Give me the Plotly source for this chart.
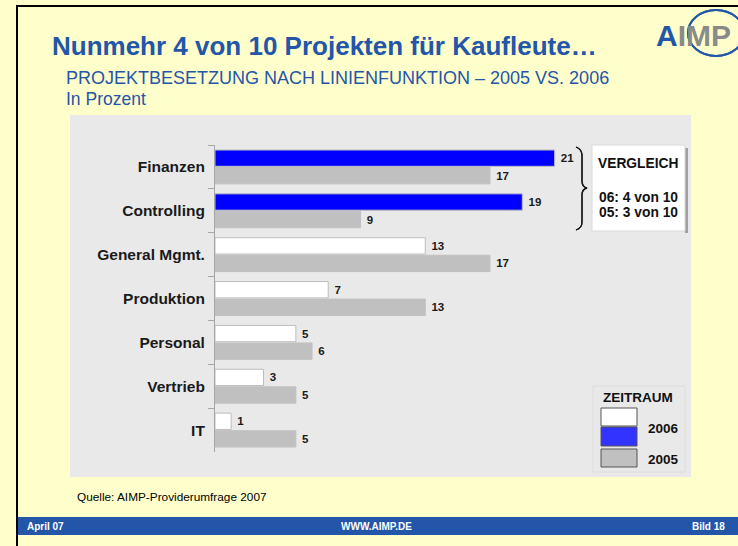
import plotly.graph_objects as go

categories = ["Finanzen", "Controlling", "General Mgmt.", "Produktion", "Personal", "Vertrieb", "IT"]
values_2006 = [21, 19, 13, 7, 5, 3, 1]
values_2005 = [17, 9, 17, 13, 6, 5, 5]
colors_2006 = ["#0000FF", "#0000FF", "#FFFFFF", "#FFFFFF", "#FFFFFF", "#FFFFFF", "#FFFFFF"]
color_2005 = "#C0C0C0"

title_text = "Nunmehr 4 von 10 Projekten für Kaufleute…"
subtitle_text = "PROJEKTBESETZUNG NACH LINIENFUNKTION – 2005 VS. 2006"
unit_text = "In Prozent"
source_text = "Quelle: AIMP-Providerumfrage 2007"

W, H = 738, 546
FONT = "Liberation Sans, Arial, sans-serif"
BLUE_T = "#2356A8"


def px(x):
    return x / W


def py(y):
    return 1 - y / H


fig = go.Figure()
fig.add_trace(go.Bar(
    y=categories, x=values_2006, orientation="h", name="2006",
    marker=dict(color=colors_2006, line=dict(color="#BDBDBD", width=1)),
    texttemplate="\u00a0%{x}", textposition="outside", cliponaxis=False, constraintext="none",
    textfont=dict(family=FONT, size=11.5, color="#1a1a1a", weight="bold"),
))
fig.add_trace(go.Bar(
    y=categories, x=values_2005, orientation="h", name="2005",
    marker=dict(color=color_2005, line=dict(color=color_2005, width=1)),
    texttemplate="\u00a0%{x}", textposition="outside", cliponaxis=False, constraintext="none",
    textfont=dict(family=FONT, size=11.5, color="#1a1a1a", weight="bold"),
))

shapes = []


def rect(x0, y0, x1, y1, fill, line=None, lw=0, layer="below"):
    shapes.append(dict(type="rect", xref="paper", yref="paper",
                       x0=px(x0), x1=px(x1), y0=py(y1), y1=py(y0),
                       fillcolor=fill, line=dict(color=line or fill, width=lw), layer=layer))


# page background
rect(16, 5, 738, 546, "#FFFFCC")
rect(16, 5, 738, 7, "#000000")
rect(16, 5, 18, 546, "#000000")
# chart panel
rect(70, 115, 691, 477, "#E9E9E9")
# footer band
rect(18, 517, 738, 535, "#2356A8")
# VERGLEICH box
rect(685, 148, 688, 233, "#A0A0A0", layer="above")
rect(592, 145, 685, 231, "#FFFFFF", line="#DADADA", lw=1, layer="above")
# ZEITRAUM box
rect(593, 386, 685, 472, "#E9E9E9", line="#DCDCDC", lw=1, layer="above")
rect(601, 408, 637, 426, "#FFFFFF", line="#555555", lw=1, layer="above")
rect(601, 427, 637, 446, "#3333FF", line="#555555", lw=1, layer="above")
rect(601, 449, 637, 467, "#C0C0C0", line="#555555", lw=1, layer="above")

# curly bracket
pts = [(576, 147), (582, 149), (582, 156), (582, 181), (582, 187), (587, 188),
       (582, 189), (582, 195), (582, 222), (582, 228), (576, 230)]
path = "M {},{} Q {},{} {},{} L {},{} Q {},{} {},{} Q {},{} {},{} L {},{} Q {},{} {},{}".format(
    *[v for p in pts for v in (px(p[0]), py(p[1]))])
shapes.append(dict(type="path", xref="paper", yref="paper", path=path,
                   line=dict(color="#1a1a1a", width=1.3), layer="above"))

# logo ring
shapes.append(dict(type="circle", xref="paper", yref="paper",
                   x0=px(688), x1=px(744), y0=py(56), y1=py(10),
                   line=dict(color="#2356A8", width=2), layer="above"))

annotations = []


def txt(x, y, s, size, color="#000000", bold=False, xanchor="left", yanchor="middle"):
    annotations.append(dict(x=px(x), y=py(y), xref="paper", yref="paper", text=s,
                            showarrow=False, xanchor=xanchor, yanchor=yanchor,
                            font=dict(family=FONT, size=size, color=color,
                                      weight="bold" if bold else "normal")))


txt(50, 46, title_text, 26, BLUE_T, True)
txt(64, 78, subtitle_text, 18, BLUE_T)
txt(64, 99, unit_text, 17.5, BLUE_T)
txt(75, 497, source_text, 11.8)
txt(25, 526, "April 07", 10, "#FFFFFF", True)
txt(376, 526, "WWW.AIMP.DE", 10, "#FFFFFF", True, xanchor="center")
txt(727, 526, "Bild 18", 10, "#FFFFFF", True, xanchor="right")
txt(638, 163, "VERGLEICH", 13.8, "#111111", True, xanchor="center")
txt(638, 197, "06: 4 von 10", 13.8, "#111111", True, xanchor="center")
txt(638, 213, "05: 3 von 10", 13.8, "#111111", True, xanchor="center")
txt(638, 397, "ZEITRAUM", 13.5, "#111111", True, xanchor="center")
txt(663, 428, "2006", 13.5, "#111111", True, xanchor="center")
txt(663, 459, "2005", 13.5, "#111111", True, xanchor="center")
txt(654, 36, "<span style='color:#2356A8'>A</span><span style='color:#8A8A8A'>IMP</span>", 30, "#8A8A8A", True)

fig.update_layout(
    width=W, height=H, margin=dict(l=0, r=0, t=0, b=0),
    paper_bgcolor="#FFFFCC", plot_bgcolor="rgba(0,0,0,0)",
    barmode="group", bargap=0.2, bargroupgap=0.07,
    showlegend=False, shapes=shapes, annotations=annotations,
    xaxis=dict(domain=[px(215), px(587)], range=[0, 23], visible=False),
    yaxis=dict(domain=[py(452), py(145)], autorange="reversed", type="category",
               showline=True, linecolor="#A6A6A6", linewidth=1,
               ticks="outside", tickson="boundaries", ticklen=6, tickcolor="#A6A6A6",
               ticklabelstandoff=6,
               showgrid=False, zeroline=False,
               tickfont=dict(family=FONT, size=15.5, color="#1a1a1a", weight="bold")),
)
# white strip outside the black frame (top and left)
shapes.insert(0, dict(type="rect", xref="paper", yref="paper", x0=0, x1=px(16), y0=0, y1=1,
                      fillcolor="#FFFFFF", line=dict(width=0), layer="below"))
shapes.insert(0, dict(type="rect", xref="paper", yref="paper", x0=0, x1=1, y0=py(5), y1=1,
                      fillcolor="#FFFFFF", line=dict(width=0), layer="below"))
fig.update_layout(shapes=shapes)

fig.write_html("out.html", config={"displayModeBar": False},
               post_script="document.body.style.margin='0';document.body.style.overflow='hidden';"
                           "document.documentElement.style.overflow='hidden';")
